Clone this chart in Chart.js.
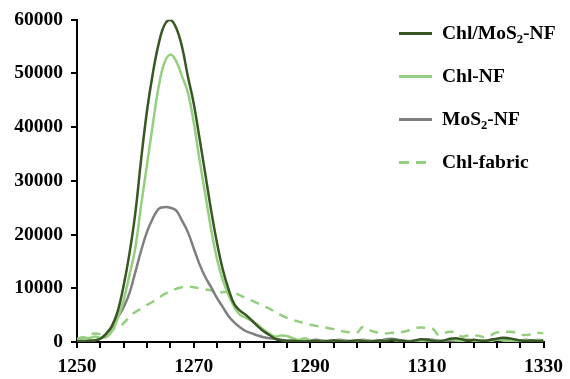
<!DOCTYPE html>
<html>
<head>
<meta charset="utf-8">
<script src="https://cdn.jsdelivr.net/npm/chart.js@4.4.1/dist/chart.umd.min.js"></script>
<style>
  html, body { margin: 0; padding: 0; background: #fff; }
  #wrap { position: relative; width: 570px; height: 379px; }
  #legend { position: absolute; left: 399px; top: 0; font: bold 19.5px "Liberation Serif", "Times New Roman", serif; color: #000; }
  .item { position: absolute; left: 0; height: 22px; line-height: 22px; white-space: nowrap; display: flex; align-items: center; }
  .swatch { width: 33px; height: 3px; margin-right: 10px; }
  sub { font-size: 0.65em; vertical-align: -0.3em; line-height: 0; }
</style>
</head>
<body>
<div id="wrap">
  <canvas id="raman" width="570" height="379"></canvas>
  <div id="legend"></div>
</div>
<script>
// wavenumber (cm-1)
const wavenumbers = [
  1250, 1251, 1252, 1253, 1254, 1255, 1256, 1257, 1258, 1259,
  1260, 1261, 1262, 1263, 1264, 1265, 1266, 1267, 1268, 1269,
  1270, 1271, 1272, 1273, 1274, 1275, 1276, 1277, 1278, 1279,
  1280, 1281, 1282, 1283, 1284, 1285, 1286, 1287, 1288, 1289,
  1290, 1291, 1292, 1293, 1294, 1295, 1296, 1297, 1298, 1299,
  1300, 1301, 1302, 1303, 1304, 1305, 1306, 1307, 1308, 1309,
  1310, 1311, 1312, 1313, 1314, 1315, 1316, 1317, 1318, 1319,
  1320, 1321, 1322, 1323, 1324, 1325, 1326, 1327, 1328, 1329,
  1330
];

const seriesLabels = ["Chl/MoS₂-NF", "Chl-NF", "MoS₂-NF", "Chl-fabric"];

const chlMoS2NF = [
  200, 100, 200, 300, 600, 1500, 3000, 5800, 10500, 16500,
  24000, 34000, 43000, 50000, 55500, 59000, 60000, 58500, 55000, 49500,
  44500, 38000, 31300, 24500, 18500, 13500, 9800, 7000, 5800, 5000,
  4000, 2900, 2000, 1300, 600, 300, 200, 250, 150, 100,
  150, 200, 100, 200, 300, 200, 100, 200, 300, 200,
  100, 200, 300, 200, 400, 300, 200, 100, 300, 500,
  400, 200, 100, 300, 600, 700, 500, 300, 400, 300,
  200, 400, 600, 800, 700, 500, 300, 200, 300, 200,
  300
];

const chlNF = [
  600, 900, 700, 1000, 800, 900, 2000, 4500, 7800, 12500,
  17500, 25500, 33000, 40500, 47500, 52000, 53500, 52300, 49500, 46500,
  41000, 34000, 27500, 21000, 15500, 11500, 8700, 6500, 5000, 4500,
  3900, 3200, 2300, 1500, 1000, 1200, 1100, 700, 400, 700,
  300, 100, 200, 100, 200, 300, 100, 200, 100, 300,
  200, 100, 200, 300, 400, 200, 100, 200, 100, 200,
  300, 200, 100, 300, 500, 300, 200, 400, 300, 200,
  300, 200, 400, 300, 200, 300, 200, 300, 200, 400,
  300
];

const mos2NF = [
  100, 200, 300, 300, 600, 1500, 2800, 4600, 6500, 9100,
  13000, 17000, 20500, 23000, 24800, 25100, 25000, 24500, 22600, 20500,
  17500, 14500, 12100, 10200, 8200, 6500, 4800, 3600, 2700, 2000,
  1600, 1200, 900, 700, 600, 400, 300, 200, 300, 200,
  300, 400, 300, 200, 300, 400, 300, 200, 300, 400,
  300, 200, 300, 500, 600, 400, 300, 200, 300, 400,
  500, 400, 300, 200, 300, 200, 300, 400, 300, 200,
  300, 400, 500, 400, 300, 200, 300, 400, 300, 200,
  300
];

const chlFabric = [
  300, 600, 1300, 1600, 1500, 1900, 2400, 2700, 3500, 4700,
  5600, 6200, 6900, 7500, 8200, 8900, 9500, 9900, 10200, 10300,
  10200, 10000, 9800, 9600, 9000, 9300, 9300, 9100, 8700, 8100,
  7700, 7200, 6700, 6200, 5600, 5000, 4500, 4100, 3800, 3500,
  3200, 3000, 2800, 2600, 2400, 2100, 1900, 1800, 1700, 2800,
  2300, 1900, 1700, 1600, 1700, 1800, 1900, 2200, 2600, 2700,
  2600, 2500, 1300, 1700, 1900, 1700, 1000, 1200, 1300, 1100,
  900, 1300, 1800, 1900, 1900, 1800, 1400, 1300, 1500, 1700,
  1600
];

const xMin = 1250, xMax = 1330, xStep = 4, xLabelEvery = 20;
const yMin = 0, yMax = 60000, yStep = 10000;

const colors = ["#385723", "#93cf7f", "#7f7f7f", "#93cf7f"];
const dashes = [[], [], [], [9, 7]];

const toPoints = arr => arr.map((v, i) => ({ x: wavenumbers[i], y: v }));
const seriesData = [chlMoS2NF, chlNF, mos2NF, chlFabric];

const tickFont = { family: "'Liberation Serif', 'Times New Roman', serif", size: 19.5, weight: "bold" };

const chart = new Chart(document.getElementById("raman").getContext("2d"), {
  type: "line",
  data: {
    datasets: seriesData.map((d, i) => ({
      label: seriesLabels[i],
      data: toPoints(d),
      borderColor: colors[i],
      backgroundColor: colors[i],
      borderWidth: 2.5,
      borderDash: dashes[i],
      pointRadius: 0,
      tension: 0.4,
      fill: false
    }))
  },
  options: {
    responsive: false,
    animation: false,
    layout: { padding: { top: 19, right: 21, left: 0, bottom: 0 } },
    plugins: {
      legend: { display: false },
      tooltip: { enabled: false }
    },
    scales: {
      x: {
        type: "linear",
        min: xMin,
        max: xMax,
        border: { color: "#000", width: 2 },
        grid: { drawOnChartArea: false, drawTicks: true, tickLength: 6, color: "#000", lineWidth: 2 },
        ticks: {
          stepSize: xStep,
          autoSkip: false,
          maxRotation: 0,
          padding: 7,
          color: "#000",
          font: tickFont,
          callback: v => ((v - xMin) % xLabelEvery === 0 ? String(v) : "")
        },
        afterFit: s => { s.height = 37; }
      },
      y: {
        min: yMin,
        max: yMax,
        border: { color: "#000", width: 2 },
        grid: { drawOnChartArea: false, drawTicks: true, tickLength: 6, color: "#000", lineWidth: 2 },
        ticks: {
          stepSize: yStep,
          padding: 8,
          color: "#000",
          font: tickFont,
          callback: v => String(v)
        },
        afterFit: s => { s.width = 77; }
      }
    }
  }
});

// legend (HTML, over the plot area like the original)
const legendEl = document.getElementById("legend");
const legendCenters = [33, 76, 119, 162];
chart.data.datasets.forEach((ds, i) => {
  const item = document.createElement("div");
  item.className = "item";
  item.style.top = (legendCenters[i] - 11) + "px";
  const sw = document.createElement("div");
  sw.className = "swatch";
  if (ds.borderDash.length) {
    sw.style.background = `repeating-linear-gradient(to right, ${ds.borderColor} 0 10px, transparent 10px 17px)`;
  } else {
    sw.style.background = ds.borderColor;
  }
  const txt = document.createElement("span");
  txt.innerHTML = ds.label.replace("₂", "<sub>2</sub>");
  item.appendChild(sw);
  item.appendChild(txt);
  legendEl.appendChild(item);
});
</script>
</body>
</html>
